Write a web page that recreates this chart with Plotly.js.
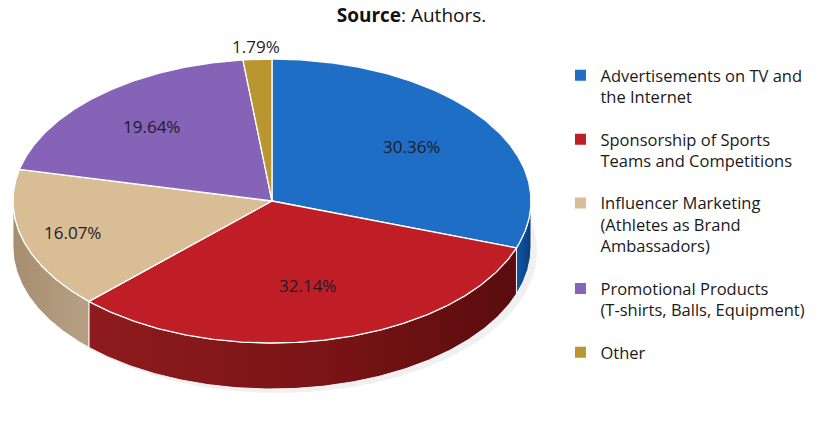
<!DOCTYPE html>
<html>
<head>
<meta charset="utf-8">
<script src="https://cdn.plot.ly/plotly-3.0.1.min.js"></script>
<style>
  html, body { margin: 0; padding: 0; background: #fff; }
  #chart { width: 823px; height: 438px; }
</style>
</head>
<body>
<div id="chart"></div>
<script>
// data
const categories = [
  'Advertisements on TV and<br>the Internet',
  'Sponsorship of Sports<br>Teams and Competitions',
  'Influencer Marketing<br>(Athletes as Brand<br>Ambassadors)',
  'Promotional Products<br>(T-shirts, Balls, Equipment)',
  'Other'
];
const shares = [30.36, 32.14, 16.07, 19.64, 1.79];
const labels = ['30.36%', '32.14%', '16.07%', '19.64%', '1.79%'];

// styling
const topColors = ['#1f6ec6', '#c01e26', '#d9bd95', '#8563b7', '#b9962f'];
const wallScales = [
  [[0, '#1058a6'], [1, '#0a3d7c']],
  [[0, '#8e1b1d'], [0.55, '#7a1416'], [1, '#5a0c0e']],
  [[0, '#a68e70'], [1, '#b6a083']],
  [[0, '#6a4e96'], [1, '#5a4082']],
  [[0, '#947624'], [1, '#7e641c']]
];

// geometry of the tilted pie (pixel space of the page)
const cx = 272, cy = 201, rx = 259, ry = 142, depth = 46;
const labelR = [0.66, 0.61, 0.8, 0.7, 1.09];

function pt(theta, dy) {
  return [cx + rx * Math.sin(theta), cy - ry * Math.cos(theta) + (dy || 0)];
}

function arc(a0, a1, dy) {
  const n = Math.max(2, Math.ceil(Math.abs(a1 - a0) / 0.01));
  const out = [];
  for (let i = 0; i <= n; i++) out.push(pt(a0 + (a1 - a0) * i / n, dy));
  return out;
}

const total = shares.reduce((s, v) => s + v, 0);
const bounds = [];
let acc = 0;
shares.forEach(v => {
  const a0 = acc / total * 2 * Math.PI;
  acc += v;
  bounds.push([a0, acc / total * 2 * Math.PI]);
});

const traces = [];

// soft shadow under the pie
const sh = arc(0, 2 * Math.PI, depth + 4).map(p => [p[0] + 6, p[1]]);
traces.push({
  type: 'scatter', mode: 'lines', fill: 'toself',
  x: sh.map(p => p[0]), y: sh.map(p => p[1]),
  fillcolor: 'rgba(0,0,0,0.06)', line: { width: 0 },
  hoverinfo: 'skip', showlegend: false
});

// side walls, only the front half is visible
bounds.forEach(([a0, a1], i) => {
  const s = Math.max(a0, Math.PI / 2), e = Math.min(a1, 3 * Math.PI / 2);
  if (e <= s) return;
  const pts = arc(s, e, 0).concat(arc(e, s, depth));
  pts.push(pts[0]);
  traces.push({
    type: 'scatter', mode: 'lines', fill: 'toself',
    x: pts.map(p => p[0]), y: pts.map(p => p[1]),
    fillcolor: wallScales[i][0][1],
    fillgradient: { type: 'horizontal', colorscale: wallScales[i] },
    line: { color: 'rgba(255,255,255,0.9)', width: 1 },
    hoverinfo: 'skip', showlegend: false
  });
});

// top faces
bounds.forEach(([a0, a1], i) => {
  const pts = [[cx, cy]].concat(arc(a0, a1, 0));
  pts.push([cx, cy]);
  traces.push({
    type: 'scatter', mode: 'lines', fill: 'toself',
    x: pts.map(p => p[0]), y: pts.map(p => p[1]),
    fillcolor: topColors[i],
    line: { color: '#ffffff', width: 1.3 },
    name: categories[i].replace(/<br>/g, ' '),
    hoverinfo: 'name', showlegend: false
  });
});

// legend entries
categories.forEach((c, i) => {
  traces.push({
    type: 'scatter', mode: 'markers', x: [null], y: [null],
    name: c, legendgroup: 'g' + i,
    marker: { symbol: 'square', size: 11, color: topColors[i] }
  });
});

// percentage labels
const annotations = bounds.map(([a0, a1], i) => {
  const p = pt((a0 + a1) / 2, 0);
  const k = labelR[i];
  return {
    x: cx + (p[0] - cx) * k,
    y: cy + (p[1] - cy) * k,
    xref: 'x', yref: 'y',
    text: labels[i], showarrow: false,
    font: { family: 'Open Sans', size: 17, color: '#1c1c2a' }
  };
});

const layout = {
  width: 823, height: 438,
  margin: { l: 0, r: 0, t: 0, b: 0 },
  paper_bgcolor: '#ffffff', plot_bgcolor: '#ffffff',
  title: {
    text: '<b>Source</b>: Authors.',
    x: 0.5, xanchor: 'center',
    y: 1 - 15 / 438, yanchor: 'middle',
    font: { family: 'Open Sans', size: 19, color: '#111' }
  },
  xaxis: { range: [0, 823], visible: false, fixedrange: true },
  yaxis: { range: [438, 0], visible: false, fixedrange: true },
  showlegend: true,
  legend: {
    x: 0.681, y: 1 - 58 / 438, xanchor: 'left', yanchor: 'top',
    valign: 'top', tracegroupgap: 18,
    font: { family: 'Open Sans', size: 16.5, color: '#1a1a1a' },
    bgcolor: 'rgba(0,0,0,0)'
  },
  annotations: annotations
};

Plotly.newPlot('chart', traces, layout, { displayModeBar: false, staticPlot: true });
</script>
</body>
</html>
